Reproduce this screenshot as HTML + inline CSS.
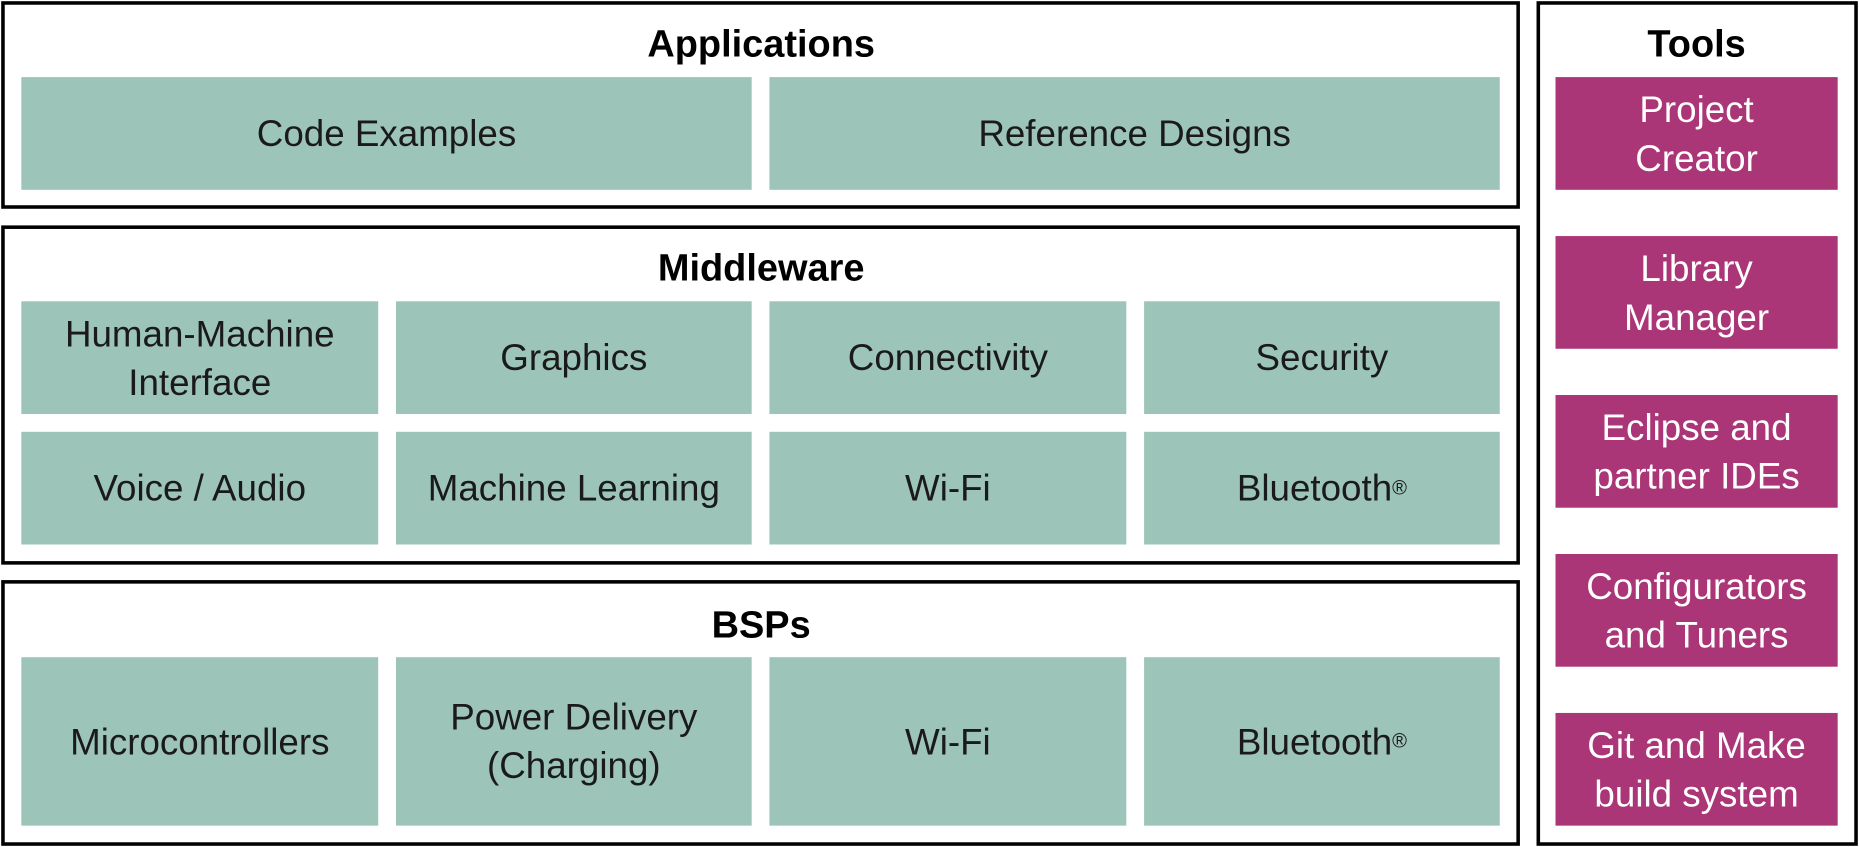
<!DOCTYPE html>
<html><head><meta charset="utf-8"><style>
html,body{margin:0;padding:0;background:#fff;}
body{width:1859px;height:847px;overflow:hidden;position:relative;}
#w{position:absolute;left:0;top:0;width:1568px;height:714px;transform:scale(1.18559,1.18627);transform-origin:0 0;font-family:"Liberation Sans",sans-serif;}
.box{position:absolute;border:3px solid #000;box-sizing:border-box;background:#fff;}
.t{position:absolute;font-weight:bold;font-size:32px;color:#000;text-align:center;transform:translate(-50%,-50%);white-space:nowrap;}
.g,.p{position:absolute;display:flex;align-items:center;justify-content:center;text-align:center;font-size:31px;line-height:41px;white-space:nowrap;}
.g{background:#9dc4b8;color:#1a1a1a;}
.p{background:#aa3577;color:#fff;}
sup{font-size:17px;vertical-align:13px;line-height:0;}
</style></head><body><div id="w">
<div class="box" style="left:1px;top:1px;width:1281px;height:175px"></div>
<div class="box" style="left:1px;top:190px;width:1281px;height:286px"></div>
<div class="box" style="left:1px;top:489px;width:1281px;height:224px"></div>
<div class="box" style="left:1296px;top:1px;width:271px;height:712px"></div>
<div class="t" style="left:642px;top:37px">Applications</div>
<div class="t" style="left:642px;top:226px">Middleware</div>
<div class="t" style="left:642px;top:527px">BSPs</div>
<div class="t" style="left:1431px;top:37px">Tools</div>

<div class="g" style="left:18px;top:65px;width:616px;height:95px">Code Examples</div>
<div class="g" style="left:649px;top:65px;width:616px;height:95px">Reference Designs</div>

<div class="g" style="left:18px;top:254px;width:301px;height:95px">Human-Machine<br>Interface</div>
<div class="g" style="left:334px;top:254px;width:300px;height:95px">Graphics</div>
<div class="g" style="left:649px;top:254px;width:301px;height:95px">Connectivity</div>
<div class="g" style="left:965px;top:254px;width:300px;height:95px">Security</div>
<div class="g" style="left:18px;top:364px;width:301px;height:95px">Voice / Audio</div>
<div class="g" style="left:334px;top:364px;width:300px;height:95px">Machine Learning</div>
<div class="g" style="left:649px;top:364px;width:301px;height:95px">Wi-Fi</div>
<div class="g" style="left:965px;top:364px;width:300px;height:95px">Bluetooth<sup>®</sup></div>

<div class="g" style="left:18px;top:554px;width:301px;height:142px">Microcontrollers</div>
<div class="g" style="left:334px;top:554px;width:300px;height:142px">Power Delivery<br>(Charging)</div>
<div class="g" style="left:649px;top:554px;width:301px;height:142px">Wi-Fi</div>
<div class="g" style="left:965px;top:554px;width:300px;height:142px">Bluetooth<sup>®</sup></div>

<div class="p" style="left:1312px;top:65px;width:238px;height:95px">Project<br>Creator</div>
<div class="p" style="left:1312px;top:199px;width:238px;height:95px">Library<br>Manager</div>
<div class="p" style="left:1312px;top:333px;width:238px;height:95px">Eclipse and<br>partner IDEs</div>
<div class="p" style="left:1312px;top:467px;width:238px;height:95px">Configurators<br>and Tuners</div>
<div class="p" style="left:1312px;top:601px;width:238px;height:95px">Git and Make<br>build system</div>
</div></body></html>
